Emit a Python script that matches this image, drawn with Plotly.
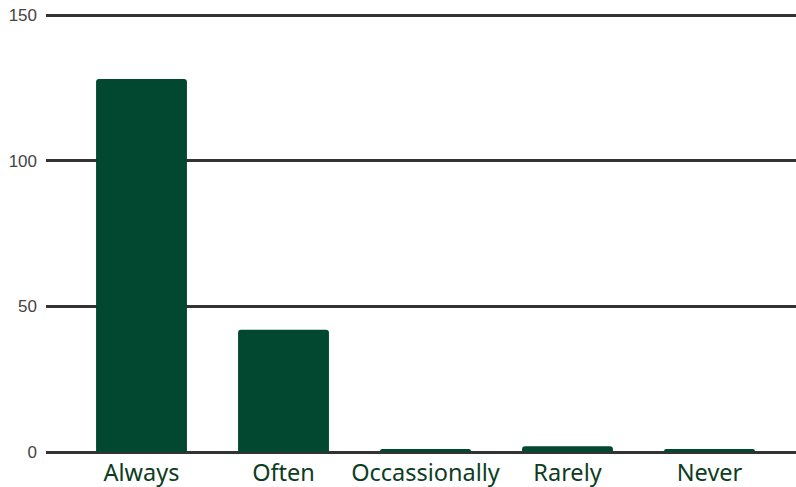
import plotly.graph_objects as go

# Survey responses by frequency
categories = ["Always", "Often", "Occassionally", "Rarely", "Never"]
counts = [128, 42, 1, 2, 1]
y_ticks = [0, 50, 100, 150]

bar_color = "#02472f"
grid_color = "#333333"

fig = go.Figure(
    go.Bar(
        x=categories,
        y=counts,
        marker=dict(color=bar_color, line=dict(width=0)),
        hoverinfo="x+y",
    )
)

fig.update_layout(
    width=796,
    height=487,
    margin=dict(l=46, r=0, t=14, b=35),
    paper_bgcolor="white",
    plot_bgcolor="white",
    bargap=0.36,
    barcornerradius=3,
    showlegend=False,
    xaxis=dict(
        type="category",
        range=[-0.6725, 4.609],
        showgrid=False,
        showline=False,
        zeroline=False,
        ticks="",
        tickfont=dict(family="Noto Sans", size=23.5, color="#0c3d22"),
        ticklabelstandoff=4,
    ),
    yaxis=dict(
        # a little headroom so the 150 gridline is drawn at the top edge
        range=[0, 150.35],
        tickvals=y_ticks,
        showgrid=True,
        gridcolor=grid_color,
        gridwidth=3,
        zeroline=True,
        zerolinecolor=grid_color,
        zerolinewidth=3,
        showline=False,
        ticks="",
        tickfont=dict(family="Liberation Sans", size=17, color="#444444"),
        ticklabelstandoff=8,
    ),
)

fig.write_html("out.html")
